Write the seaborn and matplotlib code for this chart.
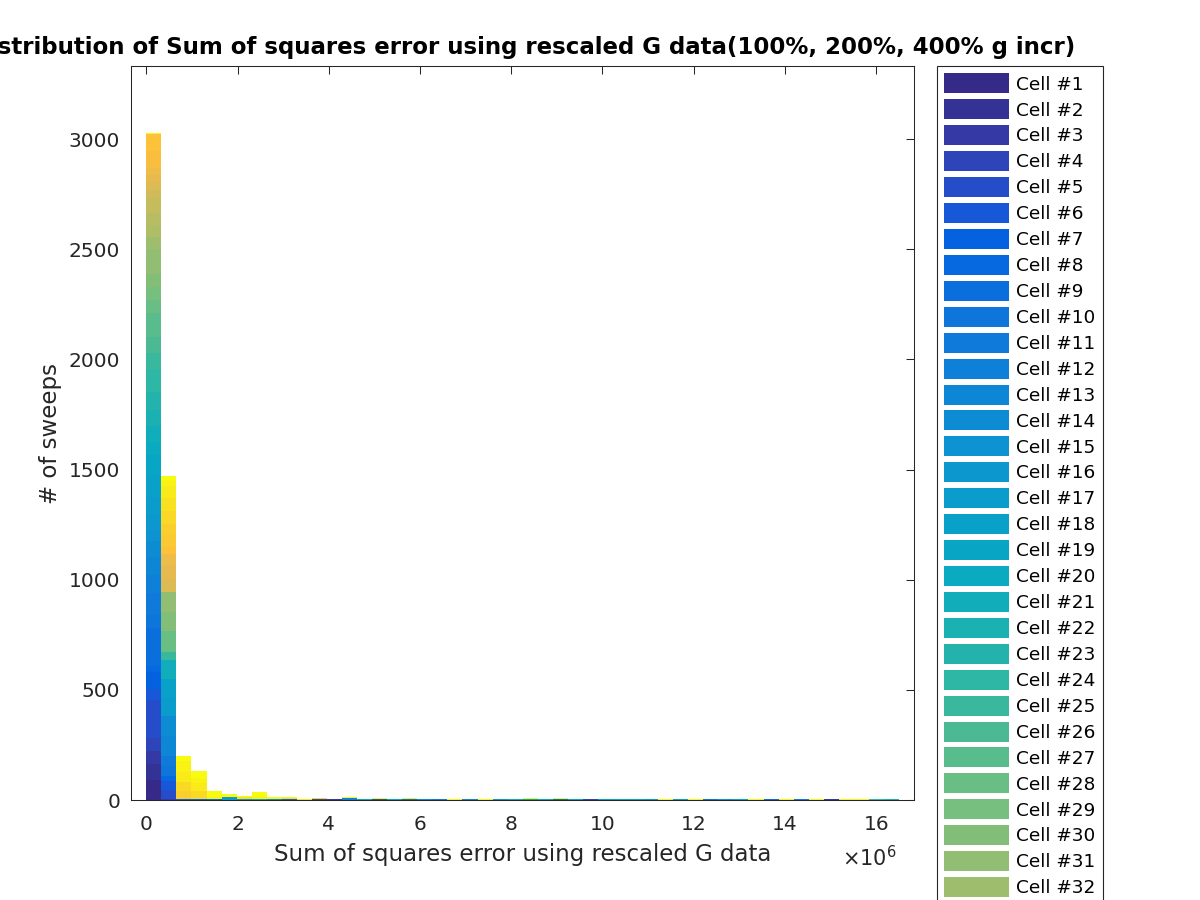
import numpy as np
import pandas as pd
import matplotlib
matplotlib.use("Agg")
import matplotlib.pyplot as plt
from matplotlib.colors import LinearSegmentedColormap
from matplotlib.patches import Patch
from matplotlib.ticker import MultipleLocator, FuncFormatter
import seaborn as sns

# ---------------- data ----------------
n_cells = 48
cell_labels = [f"Cell #{k}" for k in range(1, n_cells + 1)]
bin_edges = np.linspace(0, 16.5e6, 51)          # 50 bins, width 0.33e6
x_scale_exp = 6                                  # axis shown in units of 10^6

# counts per cell (Cell #1 .. #48) in the first bin
bin1_counts = [90, 75, 58, 60, 172, 48, 79, 24, 174, 61,
               98, 80, 86, 69, 53, 70, 77, 100, 94, 58,
               70, 75, 80, 107, 70, 73, 109, 58, 60, 61,
               110, 56, 57, 53, 68, 35, 35, 32, 32, 77,
               77, 0, 0, 0, 0, 0, 2, 4]
# counts per cell in the second bin
bin2_counts = [1, 1, 1, 1, 41, 41, 0, 23, 0, 45,
               46, 0, 90, 92, 0, 0, 83, 84, 0, 0,
               86, 0, 0, 0, 38, 0, 0, 95, 0, 87,
               87, 0, 0, 0, 0, 0, 63, 60, 50, 0,
               35, 52, 53, 57, 57, 57, 26, 18]
# remaining (sparse) counts: bin number (1-based), cell number, count
tail_bin = [3, 3, 3, 3, 3, 3, 3, 3,
            4, 4, 4, 4, 4,
            5, 5, 5,
            6, 6,
            7, 7, 7,
            8, 8, 8,
            9, 9,
            10, 10, 10,
            11, 11,
            12, 12,
            13, 13, 14, 14, 15, 16, 16, 17, 18, 18, 19, 20, 21, 22, 23, 24, 25,
            26, 26, 27, 28, 28, 29, 30, 31, 31, 32, 33, 34, 34, 35, 36, 37,
            38, 38, 39, 40, 41, 42, 43, 44, 45, 46, 47, 48, 49, 49, 50]
tail_cell = [6, 9, 43, 44, 46, 47, 47, 48,
             7, 44, 46, 47, 48,
             8, 47, 48,
             17, 48,
             15, 45, 48,
             18, 47, 48,
             12, 48,
             6, 45, 48,
             14, 46,
             4, 44,
             3, 46, 12, 48, 20, 5, 48, 19, 9, 47, 14, 11, 48, 13, 48, 16, 21,
             18, 48, 20, 8, 48, 19, 4, 18, 47, 20, 19, 17, 48, 48, 18, 48,
             10, 48, 16, 19, 48, 9, 48, 11, 48, 3, 48, 48, 25, 19, 22]
tail_count = [3, 2, 35, 40, 45, 30, 20, 25,
              5, 35, 37, 25, 30,
              4, 10, 27,
              12, 15,
              3, 12, 3,
              5, 15, 16,
              3, 11,
              3, 8, 4,
              2, 3,
              4, 4,
              4, 1, 10, 4, 4, 6, 3, 4, 6, 3, 4, 4, 4, 4, 3, 4, 4,
              4, 3, 4, 5, 3, 4, 4, 4, 1, 4, 4, 4, 1, 3, 4, 3,
              4, 1, 4, 4, 3, 4, 3, 4, 3, 4, 3, 3, 4, 1, 4]

# ---------------- build table ----------------
counts = np.zeros((n_cells, len(bin_edges) - 1))
counts[:, 0] = bin1_counts
counts[:, 1] = bin2_counts
for b, c, v in zip(tail_bin, tail_cell, tail_count):
    counts[c - 1, b - 1] += v
centers = (bin_edges[:-1] + bin_edges[1:]) / 2
rows = []
for ci in range(n_cells):
    for bi in range(len(centers)):
        rows.append((cell_labels[ci], centers[bi], counts[ci, bi]))
df = pd.DataFrame(rows, columns=["cell", "sse", "n"])

# ---------------- style ----------------
parula_anchors = [
    (0.000, (0.2081, 0.1663, 0.5292)), (0.048, (0.2081, 0.2386, 0.6771)),
    (0.095, (0.1253, 0.3242, 0.8303)), (0.127, (0.0117, 0.3875, 0.8820)),
    (0.206, (0.0629, 0.4737, 0.8554)), (0.302, (0.0488, 0.5772, 0.8228)),
    (0.397, (0.0267, 0.6642, 0.7607)), (0.492, (0.1801, 0.7177, 0.6424)),
    (0.587, (0.4420, 0.7481, 0.5033)), (0.683, (0.6834, 0.7435, 0.4044)),
    (0.778, (0.8824, 0.7274, 0.3217)), (0.841, (0.9938, 0.7455, 0.2403)),
    (0.905, (0.9789, 0.8271, 0.1633)), (1.000, (0.9763, 0.9831, 0.0538))]
parula = LinearSegmentedColormap.from_list("parula", parula_anchors)
colors = [parula(t) for t in np.linspace(0, 1, n_cells)]
palette = dict(zip(cell_labels, colors))

sns.set_theme(style="white")
plt.rcParams["font.family"] = ["DejaVu Sans"]
axcol = "0.15"
plt.rcParams.update({
    "axes.edgecolor": axcol, "axes.linewidth": 0.75,
    "xtick.color": axcol, "ytick.color": axcol,
    "xtick.direction": "in", "ytick.direction": "in",
    "xtick.top": True, "ytick.right": True,
    "xtick.major.size": 5.8, "ytick.major.size": 5.8,
    "xtick.major.width": 0.75, "ytick.major.width": 0.75,
    "xtick.major.pad": 11, "ytick.major.pad": 8,
    "xtick.labelsize": 14.5, "ytick.labelsize": 14.5,
})

fig = plt.figure(figsize=(12, 9), dpi=100)
ax = fig.add_axes([0.1094, 0.1111, 0.6523, 0.8152])

sns.histplot(data=df, x="sse", weights="n", hue="cell",
             hue_order=cell_labels[::-1], palette=palette,
             bins=list(bin_edges), multiple="stack", element="bars",
             alpha=1, linewidth=0, legend=False, ax=ax)

w = bin_edges[1] - bin_edges[0]
ax.set_xlim(bin_edges[0] - w, bin_edges[-1] + w)
ax.set_ylim(0, 3330)
ax.xaxis.set_major_locator(MultipleLocator(2e6))
ax.yaxis.set_major_locator(MultipleLocator(500))
ax.xaxis.set_major_formatter(
    FuncFormatter(lambda v, p: f"{v / 10 ** x_scale_exp:g}"))
ax.annotate(r"$\times10^{%d}$" % x_scale_exp, xy=(0.978, 0),
            xycoords="axes fraction", xytext=(0, -58),
            textcoords="offset pixels", ha="right", va="center",
            fontsize=15, color=axcol)
for s in ax.spines.values():
    s.set_visible(True)

ax.set_xlabel("Sum of squares error using rescaled G data", fontsize=16.5,
              color=axcol, labelpad=6.5)
ax.set_ylabel("# of sweeps", fontsize=16.5, color=axcol, labelpad=4.5)
ax.set_title("Distribution of Sum of squares error using rescaled G data"
             "(100%, 200%, 400% g incr)", fontsize=16.5, fontweight="bold",
             color="black", pad=9)

handles = [Patch(facecolor=palette[l], edgecolor="none") for l in cell_labels]
leg = ax.legend(handles, cell_labels, loc="upper left",
                bbox_to_anchor=(937 / 1200, 1 - 66 / 900),
                bbox_transform=fig.transFigure, fontsize=13.3,
                handlelength=3.5, handleheight=1.29, labelspacing=0.31,
                handletextpad=0.4, borderpad=0.4, borderaxespad=0,
                frameon=True, fancybox=False, framealpha=1,
                edgecolor=axcol, labelcolor="black")
leg.get_frame().set_linewidth(0.8)

fig.savefig("out.png", dpi=100)
